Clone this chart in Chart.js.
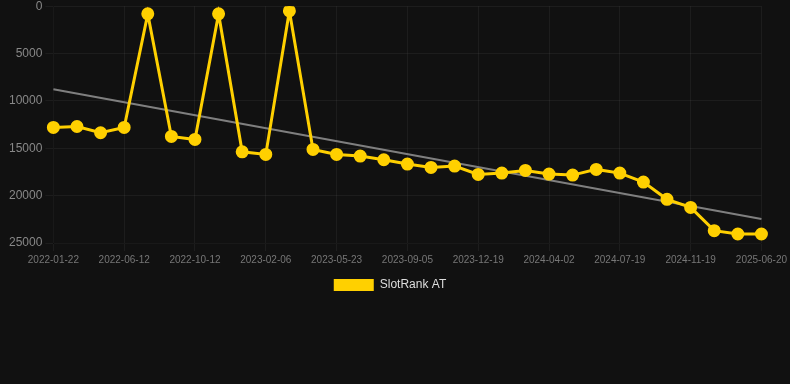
<!DOCTYPE html>
<html>
<head>
<meta charset="utf-8">
<script src="https://cdn.jsdelivr.net/npm/chart.js@4/dist/chart.umd.min.js"></script>
<style>
  html, body { margin: 0; padding: 0; background: #111111; overflow: hidden; }
  .wrap { position: relative; top: -4px; width: 790px; height: 305px; }
</style>
</head>
<body>
<div class="wrap"><canvas id="rankChart"></canvas></div>
<script>
// dates (only every 3rd one is shown on the axis)
const labels = [
  '2022-01-22', '2022-03-05', '2022-04-22', '2022-06-12', '2022-07-25', '2022-09-01',
  '2022-10-12', '2022-11-20', '2022-12-30', '2023-02-06', '2023-03-15', '2023-04-20',
  '2023-05-23', '2023-06-28', '2023-08-01', '2023-09-05', '2023-10-12', '2023-11-15',
  '2023-12-19', '2024-01-24', '2024-02-27', '2024-04-02', '2024-05-08', '2024-06-13',
  '2024-07-19', '2024-08-28', '2024-10-10', '2024-11-19', '2025-01-30', '2025-04-10',
  '2025-06-20'
];

const rankValues = [
  12800, 12700, 13360, 12800, 810, 13750, 14070, 810, 15370, 15650, 500,
  15120, 15650, 15820, 16210, 16670, 17020, 16880, 17760, 17620, 17340,
  17720, 17830, 17230, 17620, 18570, 20390, 21240, 23700, 24050, 24050
];

// trend line: only the two ends are known, the rest is spanned
const trendValues = labels.map(() => null);
trendValues[0] = 8760;
trendValues[labels.length - 1] = 22470;

const yTicks = [0, 5000, 10000, 15000, 20000, 25000];

Chart.defaults.font.family = "Arial, 'Liberation Sans', sans-serif";

// nudge the legend a bit to the left, like the original
const legendShift = {
  id: 'legendShift',
  afterLayout(chart) {
    if (chart.legend) {
      chart.legend.left -= 8;
      chart.legend.right -= 8;
    }
  }
};

const ctx = document.getElementById('rankChart').getContext('2d');

new Chart(ctx, {
  type: 'line',
  data: {
    labels: labels,
    datasets: [
      {
        label: 'SlotRank AT',
        data: rankValues,
        borderColor: '#ffd000',
        backgroundColor: '#ffd000',
        borderWidth: 3,
        pointRadius: 5,
        pointBackgroundColor: '#ffd000',
        pointBorderColor: '#ffd000',
        tension: 0,
        order: 1
      },
      {
        label: 'trend',
        data: trendValues,
        borderColor: 'rgba(140, 140, 140, 0.9)',
        borderWidth: 2,
        pointRadius: 0,
        spanGaps: true,
        order: 2
      }
    ]
  },
  plugins: [legendShift],
  options: {
    responsive: true,
    maintainAspectRatio: false,
    animation: false,
    layout: { padding: { left: 6 } },
    plugins: {
      legend: {
        position: 'bottom',
        labels: {
          color: '#dddddd',
          font: { size: 12 },
          boxWidth: 40,
          filter: (item) => item.text !== 'trend',
          generateLabels: (chart) => {
            const items = Chart.defaults.plugins.legend.labels.generateLabels(chart);
            items.forEach(it => { it.lineWidth = 0; });
            return items;
          }
        }
      },
      tooltip: { enabled: false }
    },
    scales: {
      x: {
        grid: { color: 'rgba(255, 255, 255, 0.05)' },
        ticks: {
          color: '#777777',
          font: { size: 10 },
          autoSkip: false,
          maxRotation: 0,
          callback: function(value, index) {
            return index % 3 === 0 ? labels[index] : null;
          }
        }
      },
      y: {
        reverse: true,
        min: 0,
        max: 25000,
        grid: { color: 'rgba(255, 255, 255, 0.05)' },
        afterBuildTicks: (axis) => {
          axis.ticks = yTicks.map(v => ({ value: v }));
        },
        ticks: {
          color: '#888888',
          font: { size: 12 },
          callback: (value) => String(value)
        }
      }
    }
  }
});
</script>
</body>
</html>
